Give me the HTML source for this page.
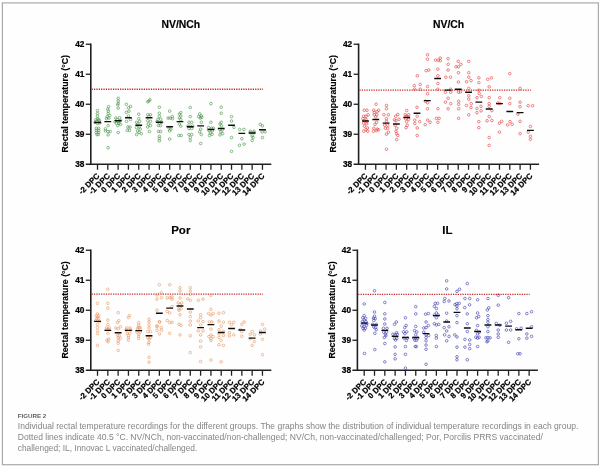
<!DOCTYPE html>
<html><head><meta charset="utf-8"><title>Figure 2</title>
<style>
html,body{margin:0;padding:0;background:#fff;}
body{width:600px;height:467px;overflow:hidden;font-family:"Liberation Sans",sans-serif;}
svg{display:block;will-change:transform;font-family:"Liberation Sans",sans-serif;}
</style></head>
<body>
<svg width="600" height="467" viewBox="0 0 600 467">
<rect x="0" y="0" width="600" height="467" fill="#ffffff"/>
<rect x="2.4" y="2.9" width="596" height="461.8" fill="#fefefe" stroke="#a9a9a9" stroke-width="1.2"/>
<text x="180.8" y="28.1" font-size="10.4" font-weight="bold" text-anchor="middle" fill="#000" stroke="#000" stroke-width="0.15">NV/NCh</text>
<text transform="translate(68.2,103.8) rotate(-90)" font-size="8.75" font-weight="bold" text-anchor="middle" fill="#000" stroke="#000" stroke-width="0.15">Rectal temperature (°C)</text>
<path d="M90.80,43.55 V164.95" stroke="#202020" stroke-width="1.6" fill="none"/>
<path d="M85.80,164.25 H271.30" stroke="#202020" stroke-width="1.4" fill="none"/>
<path d="M85.80,44.25 H90.80" stroke="#202020" stroke-width="1.3"/>
<text x="84.4" y="47.2" font-size="8.3" font-weight="bold" text-anchor="end" fill="#000" stroke="#000" stroke-width="0.22">42</text>
<path d="M85.80,74.25 H90.80" stroke="#202020" stroke-width="1.3"/>
<text x="84.4" y="77.2" font-size="8.3" font-weight="bold" text-anchor="end" fill="#000" stroke="#000" stroke-width="0.22">41</text>
<path d="M85.80,104.25 H90.80" stroke="#202020" stroke-width="1.3"/>
<text x="84.4" y="107.2" font-size="8.3" font-weight="bold" text-anchor="end" fill="#000" stroke="#000" stroke-width="0.22">40</text>
<path d="M85.80,134.25 H90.80" stroke="#202020" stroke-width="1.3"/>
<text x="84.4" y="137.2" font-size="8.3" font-weight="bold" text-anchor="end" fill="#000" stroke="#000" stroke-width="0.22">39</text>
<text x="84.4" y="167.2" font-size="8.3" font-weight="bold" text-anchor="end" fill="#000" stroke="#000" stroke-width="0.22">38</text>
<path d="M97.50,164.25 V169.75" stroke="#202020" stroke-width="1.3"/>
<text transform="translate(100.10,176.45) rotate(-45)" font-size="7.9" font-weight="bold" text-anchor="end" fill="#000" stroke="#000" stroke-width="0.22">-2 DPC</text>
<path d="M107.81,164.25 V169.75" stroke="#202020" stroke-width="1.3"/>
<text transform="translate(110.41,176.45) rotate(-45)" font-size="7.9" font-weight="bold" text-anchor="end" fill="#000" stroke="#000" stroke-width="0.22">-1 DPC</text>
<path d="M118.12,164.25 V169.75" stroke="#202020" stroke-width="1.3"/>
<text transform="translate(120.72,176.45) rotate(-45)" font-size="7.9" font-weight="bold" text-anchor="end" fill="#000" stroke="#000" stroke-width="0.22">0 DPC</text>
<path d="M128.43,164.25 V169.75" stroke="#202020" stroke-width="1.3"/>
<text transform="translate(131.03,176.45) rotate(-45)" font-size="7.9" font-weight="bold" text-anchor="end" fill="#000" stroke="#000" stroke-width="0.22">1 DPC</text>
<path d="M138.74,164.25 V169.75" stroke="#202020" stroke-width="1.3"/>
<text transform="translate(141.34,176.45) rotate(-45)" font-size="7.9" font-weight="bold" text-anchor="end" fill="#000" stroke="#000" stroke-width="0.22">2 DPC</text>
<path d="M149.05,164.25 V169.75" stroke="#202020" stroke-width="1.3"/>
<text transform="translate(151.65,176.45) rotate(-45)" font-size="7.9" font-weight="bold" text-anchor="end" fill="#000" stroke="#000" stroke-width="0.22">3 DPC</text>
<path d="M159.36,164.25 V169.75" stroke="#202020" stroke-width="1.3"/>
<text transform="translate(161.96,176.45) rotate(-45)" font-size="7.9" font-weight="bold" text-anchor="end" fill="#000" stroke="#000" stroke-width="0.22">4 DPC</text>
<path d="M169.67,164.25 V169.75" stroke="#202020" stroke-width="1.3"/>
<text transform="translate(172.27,176.45) rotate(-45)" font-size="7.9" font-weight="bold" text-anchor="end" fill="#000" stroke="#000" stroke-width="0.22">5 DPC</text>
<path d="M179.98,164.25 V169.75" stroke="#202020" stroke-width="1.3"/>
<text transform="translate(182.58,176.45) rotate(-45)" font-size="7.9" font-weight="bold" text-anchor="end" fill="#000" stroke="#000" stroke-width="0.22">6 DPC</text>
<path d="M190.29,164.25 V169.75" stroke="#202020" stroke-width="1.3"/>
<text transform="translate(192.89,176.45) rotate(-45)" font-size="7.9" font-weight="bold" text-anchor="end" fill="#000" stroke="#000" stroke-width="0.22">7 DPC</text>
<path d="M200.60,164.25 V169.75" stroke="#202020" stroke-width="1.3"/>
<text transform="translate(203.20,176.45) rotate(-45)" font-size="7.9" font-weight="bold" text-anchor="end" fill="#000" stroke="#000" stroke-width="0.22">8 DPC</text>
<path d="M210.91,164.25 V169.75" stroke="#202020" stroke-width="1.3"/>
<text transform="translate(213.51,176.45) rotate(-45)" font-size="7.9" font-weight="bold" text-anchor="end" fill="#000" stroke="#000" stroke-width="0.22">9 DPC</text>
<path d="M221.22,164.25 V169.75" stroke="#202020" stroke-width="1.3"/>
<text transform="translate(223.82,176.45) rotate(-45)" font-size="7.9" font-weight="bold" text-anchor="end" fill="#000" stroke="#000" stroke-width="0.22">10 DPC</text>
<path d="M231.53,164.25 V169.75" stroke="#202020" stroke-width="1.3"/>
<text transform="translate(234.13,176.45) rotate(-45)" font-size="7.9" font-weight="bold" text-anchor="end" fill="#000" stroke="#000" stroke-width="0.22">11 DPC</text>
<path d="M241.84,164.25 V169.75" stroke="#202020" stroke-width="1.3"/>
<text transform="translate(244.44,176.45) rotate(-45)" font-size="7.9" font-weight="bold" text-anchor="end" fill="#000" stroke="#000" stroke-width="0.22">12 DPC</text>
<path d="M252.15,164.25 V169.75" stroke="#202020" stroke-width="1.3"/>
<text transform="translate(254.75,176.45) rotate(-45)" font-size="7.9" font-weight="bold" text-anchor="end" fill="#000" stroke="#000" stroke-width="0.22">13 DPC</text>
<path d="M262.46,164.25 V169.75" stroke="#202020" stroke-width="1.3"/>
<text transform="translate(265.06,176.45) rotate(-45)" font-size="7.9" font-weight="bold" text-anchor="end" fill="#000" stroke="#000" stroke-width="0.22">14 DPC</text>
<path d="M91.60,89.25 H262.96" stroke="#c42828" stroke-width="1.3" stroke-dasharray="1.25,1.12" fill="none"/>
<g fill="none" stroke="#3f8f3f" stroke-width="0.6"><circle cx="97.50" cy="110.55" r="1.3"/><circle cx="97.50" cy="113.55" r="1.3"/><circle cx="97.50" cy="116.25" r="1.3"/><circle cx="97.50" cy="118.65" r="1.3"/><circle cx="98.70" cy="119.55" r="1.3"/><circle cx="95.80" cy="119.85" r="1.3"/><circle cx="99.50" cy="120.75" r="1.3"/><circle cx="96.90" cy="121.35" r="1.3"/><circle cx="95.00" cy="122.25" r="1.3"/><circle cx="100.00" cy="122.85" r="1.3"/><circle cx="97.50" cy="123.45" r="1.3"/><circle cx="96.30" cy="128.25" r="1.3"/><circle cx="98.70" cy="128.25" r="1.3"/><circle cx="96.30" cy="130.35" r="1.3"/><circle cx="98.70" cy="130.35" r="1.3"/><circle cx="96.30" cy="132.45" r="1.3"/><circle cx="98.70" cy="132.45" r="1.3"/><circle cx="96.90" cy="134.55" r="1.3"/><circle cx="98.30" cy="134.55" r="1.3"/><circle cx="108.61" cy="106.65" r="1.3"/><circle cx="107.81" cy="109.05" r="1.3"/><circle cx="108.31" cy="111.15" r="1.3"/><circle cx="108.11" cy="113.55" r="1.3"/><circle cx="109.71" cy="115.35" r="1.3"/><circle cx="107.01" cy="116.85" r="1.3"/><circle cx="108.91" cy="118.05" r="1.3"/><circle cx="106.51" cy="118.65" r="1.3"/><circle cx="108.11" cy="125.55" r="1.3"/><circle cx="105.41" cy="128.85" r="1.3"/><circle cx="105.41" cy="130.95" r="1.3"/><circle cx="108.11" cy="131.55" r="1.3"/><circle cx="110.21" cy="131.55" r="1.3"/><circle cx="108.11" cy="134.85" r="1.3"/><circle cx="108.11" cy="147.75" r="1.3"/><circle cx="118.22" cy="98.25" r="1.3"/><circle cx="118.22" cy="100.95" r="1.3"/><circle cx="118.22" cy="103.35" r="1.3"/><circle cx="117.72" cy="104.85" r="1.3"/><circle cx="118.22" cy="108.15" r="1.3"/><circle cx="119.62" cy="117.75" r="1.3"/><circle cx="115.82" cy="118.05" r="1.3"/><circle cx="117.22" cy="119.55" r="1.3"/><circle cx="120.42" cy="120.45" r="1.3"/><circle cx="115.02" cy="121.65" r="1.3"/><circle cx="118.12" cy="121.65" r="1.3"/><circle cx="116.42" cy="123.15" r="1.3"/><circle cx="119.02" cy="123.45" r="1.3"/><circle cx="120.52" cy="124.35" r="1.3"/><circle cx="117.72" cy="125.55" r="1.3"/><circle cx="118.22" cy="132.45" r="1.3"/><circle cx="126.33" cy="104.25" r="1.3"/><circle cx="130.53" cy="106.35" r="1.3"/><circle cx="128.43" cy="107.85" r="1.3"/><circle cx="128.93" cy="111.15" r="1.3"/><circle cx="126.33" cy="112.35" r="1.3"/><circle cx="128.43" cy="115.95" r="1.3"/><circle cx="130.53" cy="119.55" r="1.3"/><circle cx="126.53" cy="121.35" r="1.3"/><circle cx="127.93" cy="127.05" r="1.3"/><circle cx="130.03" cy="127.05" r="1.3"/><circle cx="127.33" cy="130.35" r="1.3"/><circle cx="129.53" cy="130.35" r="1.3"/><circle cx="138.74" cy="114.15" r="1.3"/><circle cx="138.74" cy="118.65" r="1.3"/><circle cx="139.74" cy="121.35" r="1.3"/><circle cx="136.54" cy="122.25" r="1.3"/><circle cx="137.84" cy="123.75" r="1.3"/><circle cx="139.14" cy="127.05" r="1.3"/><circle cx="136.54" cy="127.65" r="1.3"/><circle cx="140.24" cy="129.15" r="1.3"/><circle cx="137.54" cy="130.95" r="1.3"/><circle cx="139.14" cy="132.45" r="1.3"/><circle cx="141.34" cy="133.65" r="1.3"/><circle cx="136.54" cy="134.55" r="1.3"/><circle cx="149.95" cy="99.75" r="1.3"/><circle cx="148.85" cy="100.95" r="1.3"/><circle cx="147.75" cy="101.85" r="1.3"/><circle cx="147.75" cy="114.75" r="1.3"/><circle cx="150.45" cy="114.75" r="1.3"/><circle cx="148.85" cy="116.55" r="1.3"/><circle cx="147.75" cy="120.75" r="1.3"/><circle cx="150.45" cy="121.35" r="1.3"/><circle cx="148.25" cy="124.05" r="1.3"/><circle cx="150.45" cy="125.55" r="1.3"/><circle cx="147.75" cy="127.05" r="1.3"/><circle cx="149.35" cy="131.55" r="1.3"/><circle cx="159.36" cy="107.25" r="1.3"/><circle cx="159.36" cy="113.25" r="1.3"/><circle cx="159.36" cy="116.25" r="1.3"/><circle cx="158.06" cy="119.25" r="1.3"/><circle cx="160.66" cy="119.25" r="1.3"/><circle cx="156.96" cy="121.65" r="1.3"/><circle cx="161.76" cy="122.25" r="1.3"/><circle cx="159.36" cy="122.85" r="1.3"/><circle cx="158.46" cy="125.55" r="1.3"/><circle cx="160.56" cy="125.55" r="1.3"/><circle cx="158.46" cy="131.55" r="1.3"/><circle cx="160.56" cy="131.55" r="1.3"/><circle cx="159.36" cy="136.35" r="1.3"/><circle cx="159.36" cy="138.45" r="1.3"/><circle cx="159.36" cy="140.85" r="1.3"/><circle cx="169.67" cy="111.15" r="1.3"/><circle cx="172.37" cy="116.55" r="1.3"/><circle cx="168.07" cy="118.05" r="1.3"/><circle cx="170.17" cy="118.05" r="1.3"/><circle cx="172.37" cy="118.65" r="1.3"/><circle cx="169.17" cy="128.25" r="1.3"/><circle cx="170.77" cy="129.15" r="1.3"/><circle cx="169.67" cy="130.95" r="1.3"/><circle cx="169.67" cy="139.05" r="1.3"/><circle cx="180.78" cy="112.65" r="1.3"/><circle cx="179.38" cy="114.15" r="1.3"/><circle cx="180.78" cy="115.95" r="1.3"/><circle cx="179.38" cy="118.05" r="1.3"/><circle cx="180.78" cy="119.55" r="1.3"/><circle cx="179.38" cy="124.05" r="1.3"/><circle cx="180.78" cy="126.15" r="1.3"/><circle cx="178.78" cy="135.45" r="1.3"/><circle cx="181.18" cy="135.45" r="1.3"/><circle cx="190.29" cy="107.55" r="1.3"/><circle cx="190.29" cy="116.55" r="1.3"/><circle cx="188.99" cy="122.25" r="1.3"/><circle cx="191.69" cy="122.25" r="1.3"/><circle cx="187.89" cy="126.15" r="1.3"/><circle cx="190.29" cy="126.15" r="1.3"/><circle cx="192.69" cy="126.15" r="1.3"/><circle cx="188.99" cy="128.55" r="1.3"/><circle cx="191.69" cy="128.55" r="1.3"/><circle cx="188.99" cy="134.55" r="1.3"/><circle cx="191.69" cy="134.55" r="1.3"/><circle cx="190.29" cy="137.55" r="1.3"/><circle cx="190.29" cy="140.55" r="1.3"/><circle cx="199.70" cy="113.85" r="1.3"/><circle cx="201.30" cy="115.95" r="1.3"/><circle cx="198.60" cy="116.55" r="1.3"/><circle cx="201.80" cy="117.45" r="1.3"/><circle cx="200.20" cy="118.05" r="1.3"/><circle cx="201.30" cy="122.25" r="1.3"/><circle cx="200.70" cy="129.15" r="1.3"/><circle cx="199.70" cy="131.85" r="1.3"/><circle cx="201.30" cy="134.55" r="1.3"/><circle cx="200.70" cy="143.55" r="1.3"/><circle cx="210.91" cy="103.65" r="1.3"/><circle cx="210.91" cy="122.25" r="1.3"/><circle cx="208.51" cy="127.65" r="1.3"/><circle cx="211.51" cy="128.25" r="1.3"/><circle cx="213.31" cy="128.25" r="1.3"/><circle cx="209.11" cy="130.65" r="1.3"/><circle cx="212.31" cy="130.65" r="1.3"/><circle cx="210.31" cy="133.05" r="1.3"/><circle cx="212.11" cy="134.25" r="1.3"/><circle cx="209.51" cy="135.45" r="1.3"/><circle cx="221.22" cy="107.25" r="1.3"/><circle cx="221.22" cy="113.25" r="1.3"/><circle cx="221.22" cy="122.25" r="1.3"/><circle cx="220.02" cy="124.05" r="1.3"/><circle cx="221.52" cy="125.85" r="1.3"/><circle cx="219.82" cy="129.45" r="1.3"/><circle cx="222.62" cy="129.45" r="1.3"/><circle cx="220.92" cy="131.85" r="1.3"/><circle cx="222.62" cy="133.65" r="1.3"/><circle cx="220.02" cy="134.85" r="1.3"/><circle cx="231.53" cy="116.55" r="1.3"/><circle cx="231.53" cy="121.05" r="1.3"/><circle cx="233.93" cy="127.35" r="1.3"/><circle cx="231.53" cy="137.55" r="1.3"/><circle cx="231.53" cy="151.35" r="1.3"/><circle cx="239.74" cy="129.45" r="1.3"/><circle cx="243.94" cy="129.45" r="1.3"/><circle cx="241.84" cy="138.75" r="1.3"/><circle cx="244.14" cy="144.15" r="1.3"/><circle cx="239.54" cy="145.35" r="1.3"/><circle cx="250.35" cy="131.25" r="1.3"/><circle cx="253.95" cy="131.25" r="1.3"/><circle cx="250.35" cy="132.75" r="1.3"/><circle cx="253.95" cy="132.75" r="1.3"/><circle cx="252.15" cy="136.05" r="1.3"/><circle cx="253.05" cy="137.55" r="1.3"/><circle cx="252.15" cy="140.55" r="1.3"/><circle cx="260.36" cy="124.35" r="1.3"/><circle cx="262.46" cy="125.85" r="1.3"/><circle cx="262.06" cy="131.85" r="1.3"/><circle cx="265.06" cy="131.85" r="1.3"/><circle cx="262.46" cy="137.55" r="1.3"/></g>
<path d="M94.10,122.55H100.90M104.41,121.65H111.21M114.72,120.75H121.52M125.03,117.75H131.83M135.34,125.25H142.14M145.65,117.75H152.45M155.96,122.25H162.76M166.27,126.75H173.07M176.58,121.65H183.38M186.89,126.75H193.69M197.20,125.85H204.00M207.51,129.45H214.31M217.82,128.55H224.62M228.13,125.25H234.93M238.44,133.35H245.24M248.75,133.05H255.55M259.06,129.75H265.86" stroke="#0c0c0c" stroke-width="1.4" fill="none"/>
<text x="448.6" y="28.1" font-size="10.4" font-weight="bold" text-anchor="middle" fill="#000" stroke="#000" stroke-width="0.15">NV/Ch</text>
<text transform="translate(336.0,103.8) rotate(-90)" font-size="8.75" font-weight="bold" text-anchor="middle" fill="#000" stroke="#000" stroke-width="0.15">Rectal temperature (°C)</text>
<path d="M358.60,43.55 V164.95" stroke="#202020" stroke-width="1.6" fill="none"/>
<path d="M353.60,164.25 H539.10" stroke="#202020" stroke-width="1.4" fill="none"/>
<path d="M353.60,44.25 H358.60" stroke="#202020" stroke-width="1.3"/>
<text x="352.2" y="47.2" font-size="8.3" font-weight="bold" text-anchor="end" fill="#000" stroke="#000" stroke-width="0.22">42</text>
<path d="M353.60,74.25 H358.60" stroke="#202020" stroke-width="1.3"/>
<text x="352.2" y="77.2" font-size="8.3" font-weight="bold" text-anchor="end" fill="#000" stroke="#000" stroke-width="0.22">41</text>
<path d="M353.60,104.25 H358.60" stroke="#202020" stroke-width="1.3"/>
<text x="352.2" y="107.2" font-size="8.3" font-weight="bold" text-anchor="end" fill="#000" stroke="#000" stroke-width="0.22">40</text>
<path d="M353.60,134.25 H358.60" stroke="#202020" stroke-width="1.3"/>
<text x="352.2" y="137.2" font-size="8.3" font-weight="bold" text-anchor="end" fill="#000" stroke="#000" stroke-width="0.22">39</text>
<text x="352.2" y="167.2" font-size="8.3" font-weight="bold" text-anchor="end" fill="#000" stroke="#000" stroke-width="0.22">38</text>
<path d="M365.45,164.25 V169.75" stroke="#202020" stroke-width="1.3"/>
<text transform="translate(368.05,176.45) rotate(-45)" font-size="7.9" font-weight="bold" text-anchor="end" fill="#000" stroke="#000" stroke-width="0.22">-2 DPC</text>
<path d="M375.76,164.25 V169.75" stroke="#202020" stroke-width="1.3"/>
<text transform="translate(378.36,176.45) rotate(-45)" font-size="7.9" font-weight="bold" text-anchor="end" fill="#000" stroke="#000" stroke-width="0.22">-1 DPC</text>
<path d="M386.07,164.25 V169.75" stroke="#202020" stroke-width="1.3"/>
<text transform="translate(388.67,176.45) rotate(-45)" font-size="7.9" font-weight="bold" text-anchor="end" fill="#000" stroke="#000" stroke-width="0.22">0 DPC</text>
<path d="M396.38,164.25 V169.75" stroke="#202020" stroke-width="1.3"/>
<text transform="translate(398.98,176.45) rotate(-45)" font-size="7.9" font-weight="bold" text-anchor="end" fill="#000" stroke="#000" stroke-width="0.22">1 DPC</text>
<path d="M406.69,164.25 V169.75" stroke="#202020" stroke-width="1.3"/>
<text transform="translate(409.29,176.45) rotate(-45)" font-size="7.9" font-weight="bold" text-anchor="end" fill="#000" stroke="#000" stroke-width="0.22">2 DPC</text>
<path d="M417.00,164.25 V169.75" stroke="#202020" stroke-width="1.3"/>
<text transform="translate(419.60,176.45) rotate(-45)" font-size="7.9" font-weight="bold" text-anchor="end" fill="#000" stroke="#000" stroke-width="0.22">3 DPC</text>
<path d="M427.31,164.25 V169.75" stroke="#202020" stroke-width="1.3"/>
<text transform="translate(429.91,176.45) rotate(-45)" font-size="7.9" font-weight="bold" text-anchor="end" fill="#000" stroke="#000" stroke-width="0.22">4 DPC</text>
<path d="M437.62,164.25 V169.75" stroke="#202020" stroke-width="1.3"/>
<text transform="translate(440.22,176.45) rotate(-45)" font-size="7.9" font-weight="bold" text-anchor="end" fill="#000" stroke="#000" stroke-width="0.22">5 DPC</text>
<path d="M447.93,164.25 V169.75" stroke="#202020" stroke-width="1.3"/>
<text transform="translate(450.53,176.45) rotate(-45)" font-size="7.9" font-weight="bold" text-anchor="end" fill="#000" stroke="#000" stroke-width="0.22">6 DPC</text>
<path d="M458.24,164.25 V169.75" stroke="#202020" stroke-width="1.3"/>
<text transform="translate(460.84,176.45) rotate(-45)" font-size="7.9" font-weight="bold" text-anchor="end" fill="#000" stroke="#000" stroke-width="0.22">7 DPC</text>
<path d="M468.55,164.25 V169.75" stroke="#202020" stroke-width="1.3"/>
<text transform="translate(471.15,176.45) rotate(-45)" font-size="7.9" font-weight="bold" text-anchor="end" fill="#000" stroke="#000" stroke-width="0.22">8 DPC</text>
<path d="M478.86,164.25 V169.75" stroke="#202020" stroke-width="1.3"/>
<text transform="translate(481.46,176.45) rotate(-45)" font-size="7.9" font-weight="bold" text-anchor="end" fill="#000" stroke="#000" stroke-width="0.22">9 DPC</text>
<path d="M489.17,164.25 V169.75" stroke="#202020" stroke-width="1.3"/>
<text transform="translate(491.77,176.45) rotate(-45)" font-size="7.9" font-weight="bold" text-anchor="end" fill="#000" stroke="#000" stroke-width="0.22">10 DPC</text>
<path d="M499.48,164.25 V169.75" stroke="#202020" stroke-width="1.3"/>
<text transform="translate(502.08,176.45) rotate(-45)" font-size="7.9" font-weight="bold" text-anchor="end" fill="#000" stroke="#000" stroke-width="0.22">11 DPC</text>
<path d="M509.79,164.25 V169.75" stroke="#202020" stroke-width="1.3"/>
<text transform="translate(512.39,176.45) rotate(-45)" font-size="7.9" font-weight="bold" text-anchor="end" fill="#000" stroke="#000" stroke-width="0.22">12 DPC</text>
<path d="M520.10,164.25 V169.75" stroke="#202020" stroke-width="1.3"/>
<text transform="translate(522.70,176.45) rotate(-45)" font-size="7.9" font-weight="bold" text-anchor="end" fill="#000" stroke="#000" stroke-width="0.22">13 DPC</text>
<path d="M530.41,164.25 V169.75" stroke="#202020" stroke-width="1.3"/>
<text transform="translate(533.01,176.45) rotate(-45)" font-size="7.9" font-weight="bold" text-anchor="end" fill="#000" stroke="#000" stroke-width="0.22">14 DPC</text>
<path d="M359.40,90.15 H530.91" stroke="#c42828" stroke-width="1.3" stroke-dasharray="1.25,1.12" fill="none"/>
<g fill="none" stroke="#e23838" stroke-width="0.6"><circle cx="364.25" cy="110.25" r="1.3"/><circle cx="367.05" cy="110.25" r="1.3"/><circle cx="368.15" cy="114.75" r="1.3"/><circle cx="363.65" cy="116.25" r="1.3"/><circle cx="365.95" cy="116.25" r="1.3"/><circle cx="362.95" cy="118.65" r="1.3"/><circle cx="365.95" cy="119.25" r="1.3"/><circle cx="364.45" cy="120.75" r="1.3"/><circle cx="366.95" cy="121.65" r="1.3"/><circle cx="363.65" cy="123.15" r="1.3"/><circle cx="366.65" cy="123.75" r="1.3"/><circle cx="364.45" cy="126.15" r="1.3"/><circle cx="367.45" cy="127.95" r="1.3"/><circle cx="365.95" cy="129.75" r="1.3"/><circle cx="363.65" cy="131.25" r="1.3"/><circle cx="367.75" cy="131.25" r="1.3"/><circle cx="376.16" cy="104.25" r="1.3"/><circle cx="373.76" cy="110.25" r="1.3"/><circle cx="378.66" cy="110.25" r="1.3"/><circle cx="377.16" cy="111.75" r="1.3"/><circle cx="374.26" cy="112.35" r="1.3"/><circle cx="374.26" cy="114.75" r="1.3"/><circle cx="376.76" cy="114.75" r="1.3"/><circle cx="375.76" cy="116.85" r="1.3"/><circle cx="376.46" cy="122.25" r="1.3"/><circle cx="374.96" cy="124.35" r="1.3"/><circle cx="373.76" cy="128.25" r="1.3"/><circle cx="377.16" cy="129.15" r="1.3"/><circle cx="378.66" cy="129.75" r="1.3"/><circle cx="376.46" cy="130.65" r="1.3"/><circle cx="373.46" cy="131.25" r="1.3"/><circle cx="386.47" cy="105.45" r="1.3"/><circle cx="386.47" cy="108.75" r="1.3"/><circle cx="383.87" cy="114.75" r="1.3"/><circle cx="388.37" cy="114.75" r="1.3"/><circle cx="386.47" cy="118.65" r="1.3"/><circle cx="386.47" cy="121.35" r="1.3"/><circle cx="384.67" cy="125.25" r="1.3"/><circle cx="387.67" cy="125.25" r="1.3"/><circle cx="385.47" cy="128.25" r="1.3"/><circle cx="387.67" cy="128.25" r="1.3"/><circle cx="388.47" cy="132.15" r="1.3"/><circle cx="386.47" cy="134.25" r="1.3"/><circle cx="386.47" cy="149.25" r="1.3"/><circle cx="397.78" cy="114.45" r="1.3"/><circle cx="395.68" cy="116.25" r="1.3"/><circle cx="398.98" cy="119.25" r="1.3"/><circle cx="394.48" cy="119.85" r="1.3"/><circle cx="395.98" cy="120.75" r="1.3"/><circle cx="395.18" cy="125.25" r="1.3"/><circle cx="396.68" cy="128.25" r="1.3"/><circle cx="395.98" cy="131.25" r="1.3"/><circle cx="396.68" cy="133.65" r="1.3"/><circle cx="397.78" cy="135.45" r="1.3"/><circle cx="396.68" cy="139.65" r="1.3"/><circle cx="406.69" cy="110.55" r="1.3"/><circle cx="405.19" cy="114.75" r="1.3"/><circle cx="408.69" cy="114.75" r="1.3"/><circle cx="406.09" cy="116.25" r="1.3"/><circle cx="407.89" cy="116.85" r="1.3"/><circle cx="405.69" cy="118.65" r="1.3"/><circle cx="408.69" cy="119.25" r="1.3"/><circle cx="406.69" cy="121.65" r="1.3"/><circle cx="407.19" cy="125.25" r="1.3"/><circle cx="406.09" cy="127.65" r="1.3"/><circle cx="417.30" cy="75.75" r="1.3"/><circle cx="420.20" cy="84.45" r="1.3"/><circle cx="414.30" cy="85.65" r="1.3"/><circle cx="414.60" cy="89.25" r="1.3"/><circle cx="420.20" cy="89.25" r="1.3"/><circle cx="417.00" cy="107.25" r="1.3"/><circle cx="417.20" cy="116.25" r="1.3"/><circle cx="414.80" cy="120.15" r="1.3"/><circle cx="419.70" cy="121.65" r="1.3"/><circle cx="414.80" cy="123.45" r="1.3"/><circle cx="417.20" cy="127.95" r="1.3"/><circle cx="417.20" cy="135.45" r="1.3"/><circle cx="427.51" cy="54.75" r="1.3"/><circle cx="427.51" cy="59.25" r="1.3"/><circle cx="428.81" cy="70.05" r="1.3"/><circle cx="426.11" cy="70.65" r="1.3"/><circle cx="427.51" cy="86.55" r="1.3"/><circle cx="427.51" cy="93.75" r="1.3"/><circle cx="425.31" cy="101.25" r="1.3"/><circle cx="427.71" cy="102.75" r="1.3"/><circle cx="427.51" cy="108.75" r="1.3"/><circle cx="427.71" cy="120.15" r="1.3"/><circle cx="430.11" cy="122.25" r="1.3"/><circle cx="425.21" cy="124.65" r="1.3"/><circle cx="440.22" cy="58.05" r="1.3"/><circle cx="435.52" cy="60.15" r="1.3"/><circle cx="438.22" cy="60.15" r="1.3"/><circle cx="440.22" cy="60.75" r="1.3"/><circle cx="437.82" cy="69.15" r="1.3"/><circle cx="437.82" cy="75.75" r="1.3"/><circle cx="437.82" cy="83.55" r="1.3"/><circle cx="437.82" cy="89.25" r="1.3"/><circle cx="437.92" cy="108.75" r="1.3"/><circle cx="436.42" cy="118.35" r="1.3"/><circle cx="439.12" cy="118.35" r="1.3"/><circle cx="437.92" cy="122.25" r="1.3"/><circle cx="448.13" cy="58.65" r="1.3"/><circle cx="448.13" cy="64.35" r="1.3"/><circle cx="448.13" cy="70.05" r="1.3"/><circle cx="445.83" cy="77.25" r="1.3"/><circle cx="450.53" cy="77.25" r="1.3"/><circle cx="450.53" cy="89.25" r="1.3"/><circle cx="445.43" cy="92.25" r="1.3"/><circle cx="450.73" cy="92.25" r="1.3"/><circle cx="448.13" cy="98.25" r="1.3"/><circle cx="445.43" cy="102.15" r="1.3"/><circle cx="450.73" cy="103.65" r="1.3"/><circle cx="448.13" cy="108.75" r="1.3"/><circle cx="458.24" cy="61.35" r="1.3"/><circle cx="460.84" cy="64.35" r="1.3"/><circle cx="455.94" cy="66.75" r="1.3"/><circle cx="458.44" cy="66.75" r="1.3"/><circle cx="458.44" cy="72.75" r="1.3"/><circle cx="458.44" cy="82.05" r="1.3"/><circle cx="460.44" cy="91.95" r="1.3"/><circle cx="458.54" cy="92.25" r="1.3"/><circle cx="458.64" cy="101.25" r="1.3"/><circle cx="458.64" cy="104.25" r="1.3"/><circle cx="458.64" cy="108.75" r="1.3"/><circle cx="458.64" cy="118.35" r="1.3"/><circle cx="468.75" cy="61.35" r="1.3"/><circle cx="468.75" cy="72.75" r="1.3"/><circle cx="468.75" cy="77.25" r="1.3"/><circle cx="471.05" cy="80.55" r="1.3"/><circle cx="466.65" cy="81.75" r="1.3"/><circle cx="468.75" cy="88.35" r="1.3"/><circle cx="468.75" cy="95.85" r="1.3"/><circle cx="468.75" cy="99.15" r="1.3"/><circle cx="471.25" cy="103.65" r="1.3"/><circle cx="466.45" cy="105.45" r="1.3"/><circle cx="470.95" cy="107.55" r="1.3"/><circle cx="468.75" cy="114.75" r="1.3"/><circle cx="479.16" cy="93.45" r="1.3"/><circle cx="481.36" cy="96.45" r="1.3"/><circle cx="476.96" cy="97.65" r="1.3"/><circle cx="481.06" cy="106.35" r="1.3"/><circle cx="476.96" cy="108.45" r="1.3"/><circle cx="481.06" cy="110.85" r="1.3"/><circle cx="476.96" cy="112.65" r="1.3"/><circle cx="478.86" cy="77.85" r="1.3"/><circle cx="478.86" cy="82.65" r="1.3"/><circle cx="478.86" cy="90.15" r="1.3"/><circle cx="478.86" cy="121.65" r="1.3"/><circle cx="478.86" cy="127.65" r="1.3"/><circle cx="491.47" cy="77.85" r="1.3"/><circle cx="487.67" cy="79.35" r="1.3"/><circle cx="491.87" cy="110.55" r="1.3"/><circle cx="491.87" cy="120.45" r="1.3"/><circle cx="487.07" cy="120.75" r="1.3"/><circle cx="489.17" cy="86.85" r="1.3"/><circle cx="489.17" cy="97.65" r="1.3"/><circle cx="489.17" cy="103.65" r="1.3"/><circle cx="489.17" cy="106.35" r="1.3"/><circle cx="489.17" cy="116.55" r="1.3"/><circle cx="489.17" cy="137.55" r="1.3"/><circle cx="489.17" cy="145.35" r="1.3"/><circle cx="499.78" cy="97.65" r="1.3"/><circle cx="497.88" cy="103.05" r="1.3"/><circle cx="499.78" cy="103.65" r="1.3"/><circle cx="501.68" cy="121.35" r="1.3"/><circle cx="499.48" cy="123.15" r="1.3"/><circle cx="499.48" cy="132.15" r="1.3"/><circle cx="509.99" cy="121.65" r="1.3"/><circle cx="512.19" cy="124.35" r="1.3"/><circle cx="507.69" cy="124.95" r="1.3"/><circle cx="509.79" cy="73.65" r="1.3"/><circle cx="509.79" cy="98.25" r="1.3"/><circle cx="509.79" cy="103.65" r="1.3"/><circle cx="517.90" cy="114.15" r="1.3"/><circle cx="520.10" cy="88.35" r="1.3"/><circle cx="520.10" cy="102.15" r="1.3"/><circle cx="520.10" cy="106.65" r="1.3"/><circle cx="520.10" cy="121.35" r="1.3"/><circle cx="520.10" cy="133.65" r="1.3"/><circle cx="528.21" cy="105.75" r="1.3"/><circle cx="532.71" cy="105.75" r="1.3"/><circle cx="528.21" cy="132.15" r="1.3"/><circle cx="530.41" cy="126.45" r="1.3"/><circle cx="530.41" cy="136.35" r="1.3"/><circle cx="530.41" cy="139.35" r="1.3"/></g>
<path d="M362.05,121.05H368.85M372.36,119.55H379.16M382.67,123.15H389.47M392.98,124.05H399.78M403.29,117.45H410.09M413.60,113.25H420.40M423.91,100.65H430.71M434.22,78.45H441.02M444.53,90.15H451.33M454.84,89.25H461.64M465.15,92.25H471.95M475.46,102.15H482.26M485.77,109.05H492.57M496.08,103.65H502.88M506.39,111.45H513.19M516.70,112.65H523.50M527.01,130.35H533.81" stroke="#0c0c0c" stroke-width="1.4" fill="none"/>
<text x="180.8" y="234.0" font-size="11.5" font-weight="bold" text-anchor="middle" fill="#000" stroke="#000" stroke-width="0.15">Por</text>
<text transform="translate(68.2,309.9) rotate(-90)" font-size="8.75" font-weight="bold" text-anchor="middle" fill="#000" stroke="#000" stroke-width="0.15">Rectal temperature (°C)</text>
<path d="M90.80,249.55 V370.95" stroke="#202020" stroke-width="1.6" fill="none"/>
<path d="M85.80,370.25 H271.30" stroke="#202020" stroke-width="1.4" fill="none"/>
<path d="M85.80,250.25 H90.80" stroke="#202020" stroke-width="1.3"/>
<text x="84.4" y="253.2" font-size="8.3" font-weight="bold" text-anchor="end" fill="#000" stroke="#000" stroke-width="0.22">42</text>
<path d="M85.80,280.25 H90.80" stroke="#202020" stroke-width="1.3"/>
<text x="84.4" y="283.2" font-size="8.3" font-weight="bold" text-anchor="end" fill="#000" stroke="#000" stroke-width="0.22">41</text>
<path d="M85.80,310.25 H90.80" stroke="#202020" stroke-width="1.3"/>
<text x="84.4" y="313.2" font-size="8.3" font-weight="bold" text-anchor="end" fill="#000" stroke="#000" stroke-width="0.22">40</text>
<path d="M85.80,340.25 H90.80" stroke="#202020" stroke-width="1.3"/>
<text x="84.4" y="343.2" font-size="8.3" font-weight="bold" text-anchor="end" fill="#000" stroke="#000" stroke-width="0.22">39</text>
<text x="84.4" y="373.2" font-size="8.3" font-weight="bold" text-anchor="end" fill="#000" stroke="#000" stroke-width="0.22">38</text>
<path d="M97.50,370.25 V375.75" stroke="#202020" stroke-width="1.3"/>
<text transform="translate(100.10,382.45) rotate(-45)" font-size="7.9" font-weight="bold" text-anchor="end" fill="#000" stroke="#000" stroke-width="0.22">-2 DPC</text>
<path d="M107.81,370.25 V375.75" stroke="#202020" stroke-width="1.3"/>
<text transform="translate(110.41,382.45) rotate(-45)" font-size="7.9" font-weight="bold" text-anchor="end" fill="#000" stroke="#000" stroke-width="0.22">-1 DPC</text>
<path d="M118.12,370.25 V375.75" stroke="#202020" stroke-width="1.3"/>
<text transform="translate(120.72,382.45) rotate(-45)" font-size="7.9" font-weight="bold" text-anchor="end" fill="#000" stroke="#000" stroke-width="0.22">0 DPC</text>
<path d="M128.43,370.25 V375.75" stroke="#202020" stroke-width="1.3"/>
<text transform="translate(131.03,382.45) rotate(-45)" font-size="7.9" font-weight="bold" text-anchor="end" fill="#000" stroke="#000" stroke-width="0.22">1 DPC</text>
<path d="M138.74,370.25 V375.75" stroke="#202020" stroke-width="1.3"/>
<text transform="translate(141.34,382.45) rotate(-45)" font-size="7.9" font-weight="bold" text-anchor="end" fill="#000" stroke="#000" stroke-width="0.22">2 DPC</text>
<path d="M149.05,370.25 V375.75" stroke="#202020" stroke-width="1.3"/>
<text transform="translate(151.65,382.45) rotate(-45)" font-size="7.9" font-weight="bold" text-anchor="end" fill="#000" stroke="#000" stroke-width="0.22">3 DPC</text>
<path d="M159.36,370.25 V375.75" stroke="#202020" stroke-width="1.3"/>
<text transform="translate(161.96,382.45) rotate(-45)" font-size="7.9" font-weight="bold" text-anchor="end" fill="#000" stroke="#000" stroke-width="0.22">4 DPC</text>
<path d="M169.67,370.25 V375.75" stroke="#202020" stroke-width="1.3"/>
<text transform="translate(172.27,382.45) rotate(-45)" font-size="7.9" font-weight="bold" text-anchor="end" fill="#000" stroke="#000" stroke-width="0.22">5 DPC</text>
<path d="M179.98,370.25 V375.75" stroke="#202020" stroke-width="1.3"/>
<text transform="translate(182.58,382.45) rotate(-45)" font-size="7.9" font-weight="bold" text-anchor="end" fill="#000" stroke="#000" stroke-width="0.22">6 DPC</text>
<path d="M190.29,370.25 V375.75" stroke="#202020" stroke-width="1.3"/>
<text transform="translate(192.89,382.45) rotate(-45)" font-size="7.9" font-weight="bold" text-anchor="end" fill="#000" stroke="#000" stroke-width="0.22">7 DPC</text>
<path d="M200.60,370.25 V375.75" stroke="#202020" stroke-width="1.3"/>
<text transform="translate(203.20,382.45) rotate(-45)" font-size="7.9" font-weight="bold" text-anchor="end" fill="#000" stroke="#000" stroke-width="0.22">8 DPC</text>
<path d="M210.91,370.25 V375.75" stroke="#202020" stroke-width="1.3"/>
<text transform="translate(213.51,382.45) rotate(-45)" font-size="7.9" font-weight="bold" text-anchor="end" fill="#000" stroke="#000" stroke-width="0.22">9 DPC</text>
<path d="M221.22,370.25 V375.75" stroke="#202020" stroke-width="1.3"/>
<text transform="translate(223.82,382.45) rotate(-45)" font-size="7.9" font-weight="bold" text-anchor="end" fill="#000" stroke="#000" stroke-width="0.22">10 DPC</text>
<path d="M231.53,370.25 V375.75" stroke="#202020" stroke-width="1.3"/>
<text transform="translate(234.13,382.45) rotate(-45)" font-size="7.9" font-weight="bold" text-anchor="end" fill="#000" stroke="#000" stroke-width="0.22">11 DPC</text>
<path d="M241.84,370.25 V375.75" stroke="#202020" stroke-width="1.3"/>
<text transform="translate(244.44,382.45) rotate(-45)" font-size="7.9" font-weight="bold" text-anchor="end" fill="#000" stroke="#000" stroke-width="0.22">12 DPC</text>
<path d="M252.15,370.25 V375.75" stroke="#202020" stroke-width="1.3"/>
<text transform="translate(254.75,382.45) rotate(-45)" font-size="7.9" font-weight="bold" text-anchor="end" fill="#000" stroke="#000" stroke-width="0.22">13 DPC</text>
<path d="M262.46,370.25 V375.75" stroke="#202020" stroke-width="1.3"/>
<text transform="translate(265.06,382.45) rotate(-45)" font-size="7.9" font-weight="bold" text-anchor="end" fill="#000" stroke="#000" stroke-width="0.22">14 DPC</text>
<path d="M91.60,294.05 H262.96" stroke="#c42828" stroke-width="1.3" stroke-dasharray="1.25,1.12" fill="none"/>
<g fill="none" stroke="#e8925a" stroke-width="0.6"><circle cx="97.50" cy="303.35" r="1.3"/><circle cx="97.50" cy="313.85" r="1.3"/><circle cx="96.30" cy="315.65" r="1.3"/><circle cx="98.70" cy="315.65" r="1.3"/><circle cx="97.50" cy="317.15" r="1.3"/><circle cx="96.90" cy="318.65" r="1.3"/><circle cx="98.50" cy="318.65" r="1.3"/><circle cx="95.50" cy="320.75" r="1.3"/><circle cx="99.50" cy="321.35" r="1.3"/><circle cx="97.50" cy="324.35" r="1.3"/><circle cx="97.50" cy="327.35" r="1.3"/><circle cx="97.50" cy="330.65" r="1.3"/><circle cx="97.50" cy="333.65" r="1.3"/><circle cx="97.50" cy="345.35" r="1.3"/><circle cx="107.81" cy="289.25" r="1.3"/><circle cx="107.81" cy="303.35" r="1.3"/><circle cx="107.81" cy="308.15" r="1.3"/><circle cx="107.81" cy="320.15" r="1.3"/><circle cx="107.81" cy="324.65" r="1.3"/><circle cx="106.51" cy="327.95" r="1.3"/><circle cx="109.21" cy="327.95" r="1.3"/><circle cx="107.01" cy="329.45" r="1.3"/><circle cx="108.91" cy="329.45" r="1.3"/><circle cx="107.81" cy="333.35" r="1.3"/><circle cx="108.61" cy="339.05" r="1.3"/><circle cx="107.01" cy="340.25" r="1.3"/><circle cx="108.11" cy="341.75" r="1.3"/><circle cx="118.22" cy="312.65" r="1.3"/><circle cx="118.82" cy="320.75" r="1.3"/><circle cx="117.52" cy="322.55" r="1.3"/><circle cx="120.42" cy="326.75" r="1.3"/><circle cx="115.82" cy="327.95" r="1.3"/><circle cx="118.22" cy="328.85" r="1.3"/><circle cx="117.72" cy="335.45" r="1.3"/><circle cx="119.32" cy="335.75" r="1.3"/><circle cx="118.22" cy="338.15" r="1.3"/><circle cx="120.42" cy="338.45" r="1.3"/><circle cx="118.22" cy="340.85" r="1.3"/><circle cx="118.22" cy="343.25" r="1.3"/><circle cx="118.22" cy="350.45" r="1.3"/><circle cx="129.53" cy="315.65" r="1.3"/><circle cx="128.43" cy="317.45" r="1.3"/><circle cx="126.83" cy="327.95" r="1.3"/><circle cx="130.03" cy="327.95" r="1.3"/><circle cx="126.03" cy="330.05" r="1.3"/><circle cx="130.83" cy="330.05" r="1.3"/><circle cx="127.33" cy="333.35" r="1.3"/><circle cx="129.53" cy="333.35" r="1.3"/><circle cx="128.43" cy="335.75" r="1.3"/><circle cx="128.43" cy="337.55" r="1.3"/><circle cx="128.43" cy="340.25" r="1.3"/><circle cx="138.74" cy="322.55" r="1.3"/><circle cx="138.74" cy="325.25" r="1.3"/><circle cx="138.14" cy="327.35" r="1.3"/><circle cx="139.74" cy="327.35" r="1.3"/><circle cx="137.54" cy="328.85" r="1.3"/><circle cx="140.24" cy="328.85" r="1.3"/><circle cx="137.04" cy="332.15" r="1.3"/><circle cx="140.24" cy="332.15" r="1.3"/><circle cx="138.74" cy="334.25" r="1.3"/><circle cx="138.74" cy="336.35" r="1.3"/><circle cx="138.74" cy="338.45" r="1.3"/><circle cx="149.05" cy="319.25" r="1.3"/><circle cx="149.05" cy="321.95" r="1.3"/><circle cx="149.05" cy="325.25" r="1.3"/><circle cx="149.05" cy="327.95" r="1.3"/><circle cx="147.75" cy="331.55" r="1.3"/><circle cx="150.45" cy="331.55" r="1.3"/><circle cx="147.75" cy="337.55" r="1.3"/><circle cx="150.45" cy="337.55" r="1.3"/><circle cx="149.05" cy="339.05" r="1.3"/><circle cx="149.05" cy="342.35" r="1.3"/><circle cx="148.55" cy="344.15" r="1.3"/><circle cx="149.05" cy="357.35" r="1.3"/><circle cx="149.05" cy="362.15" r="1.3"/><circle cx="159.36" cy="284.75" r="1.3"/><circle cx="161.26" cy="292.85" r="1.3"/><circle cx="156.96" cy="294.95" r="1.3"/><circle cx="161.56" cy="297.65" r="1.3"/><circle cx="156.96" cy="299.15" r="1.3"/><circle cx="156.96" cy="310.25" r="1.3"/><circle cx="159.36" cy="321.65" r="1.3"/><circle cx="159.66" cy="321.95" r="1.3"/><circle cx="156.96" cy="325.85" r="1.3"/><circle cx="156.96" cy="326.75" r="1.3"/><circle cx="161.26" cy="327.65" r="1.3"/><circle cx="156.96" cy="330.35" r="1.3"/><circle cx="161.56" cy="330.35" r="1.3"/><circle cx="159.36" cy="333.95" r="1.3"/><circle cx="169.67" cy="284.75" r="1.3"/><circle cx="171.97" cy="297.05" r="1.3"/><circle cx="169.87" cy="297.65" r="1.3"/><circle cx="167.17" cy="297.95" r="1.3"/><circle cx="171.97" cy="299.15" r="1.3"/><circle cx="171.97" cy="306.65" r="1.3"/><circle cx="167.17" cy="311.45" r="1.3"/><circle cx="169.67" cy="312.95" r="1.3"/><circle cx="167.17" cy="320.45" r="1.3"/><circle cx="171.97" cy="322.25" r="1.3"/><circle cx="169.67" cy="322.55" r="1.3"/><circle cx="169.67" cy="333.35" r="1.3"/><circle cx="179.98" cy="287.75" r="1.3"/><circle cx="179.98" cy="291.05" r="1.3"/><circle cx="179.98" cy="297.95" r="1.3"/><circle cx="178.08" cy="302.75" r="1.3"/><circle cx="181.58" cy="303.05" r="1.3"/><circle cx="179.98" cy="304.25" r="1.3"/><circle cx="178.68" cy="308.75" r="1.3"/><circle cx="181.08" cy="308.75" r="1.3"/><circle cx="178.98" cy="310.25" r="1.3"/><circle cx="179.98" cy="314.75" r="1.3"/><circle cx="178.98" cy="324.35" r="1.3"/><circle cx="181.08" cy="325.25" r="1.3"/><circle cx="179.98" cy="334.85" r="1.3"/><circle cx="190.29" cy="287.75" r="1.3"/><circle cx="190.29" cy="291.05" r="1.3"/><circle cx="190.29" cy="294.35" r="1.3"/><circle cx="187.69" cy="298.85" r="1.3"/><circle cx="190.29" cy="300.35" r="1.3"/><circle cx="190.29" cy="312.05" r="1.3"/><circle cx="190.29" cy="316.55" r="1.3"/><circle cx="190.29" cy="321.05" r="1.3"/><circle cx="190.29" cy="324.95" r="1.3"/><circle cx="190.29" cy="335.75" r="1.3"/><circle cx="190.29" cy="352.55" r="1.3"/><circle cx="203.00" cy="299.15" r="1.3"/><circle cx="198.40" cy="300.35" r="1.3"/><circle cx="200.60" cy="314.75" r="1.3"/><circle cx="200.60" cy="317.75" r="1.3"/><circle cx="198.20" cy="321.05" r="1.3"/><circle cx="203.00" cy="321.65" r="1.3"/><circle cx="200.60" cy="324.95" r="1.3"/><circle cx="198.20" cy="330.95" r="1.3"/><circle cx="203.00" cy="330.95" r="1.3"/><circle cx="200.60" cy="334.85" r="1.3"/><circle cx="200.60" cy="341.15" r="1.3"/><circle cx="200.60" cy="346.85" r="1.3"/><circle cx="200.60" cy="361.55" r="1.3"/><circle cx="210.91" cy="295.25" r="1.3"/><circle cx="210.91" cy="309.35" r="1.3"/><circle cx="208.61" cy="313.55" r="1.3"/><circle cx="213.31" cy="313.55" r="1.3"/><circle cx="210.91" cy="315.05" r="1.3"/><circle cx="209.51" cy="321.95" r="1.3"/><circle cx="211.91" cy="321.95" r="1.3"/><circle cx="210.91" cy="329.15" r="1.3"/><circle cx="210.91" cy="334.85" r="1.3"/><circle cx="208.91" cy="336.65" r="1.3"/><circle cx="213.01" cy="336.65" r="1.3"/><circle cx="210.91" cy="338.75" r="1.3"/><circle cx="210.91" cy="340.55" r="1.3"/><circle cx="210.91" cy="360.05" r="1.3"/><circle cx="223.42" cy="312.65" r="1.3"/><circle cx="219.02" cy="313.25" r="1.3"/><circle cx="219.02" cy="321.05" r="1.3"/><circle cx="223.42" cy="322.25" r="1.3"/><circle cx="221.22" cy="326.15" r="1.3"/><circle cx="219.02" cy="329.75" r="1.3"/><circle cx="223.42" cy="331.55" r="1.3"/><circle cx="219.02" cy="333.95" r="1.3"/><circle cx="223.42" cy="335.45" r="1.3"/><circle cx="219.02" cy="337.55" r="1.3"/><circle cx="221.22" cy="340.55" r="1.3"/><circle cx="219.02" cy="344.75" r="1.3"/><circle cx="223.42" cy="345.35" r="1.3"/><circle cx="221.22" cy="361.85" r="1.3"/><circle cx="229.43" cy="322.25" r="1.3"/><circle cx="233.73" cy="322.25" r="1.3"/><circle cx="231.53" cy="324.65" r="1.3"/><circle cx="229.43" cy="332.75" r="1.3"/><circle cx="233.73" cy="334.85" r="1.3"/><circle cx="229.43" cy="336.05" r="1.3"/><circle cx="244.14" cy="321.95" r="1.3"/><circle cx="241.84" cy="324.35" r="1.3"/><circle cx="240.34" cy="329.45" r="1.3"/><circle cx="241.84" cy="331.55" r="1.3"/><circle cx="241.84" cy="336.35" r="1.3"/><circle cx="252.15" cy="331.55" r="1.3"/><circle cx="250.15" cy="334.25" r="1.3"/><circle cx="254.35" cy="334.85" r="1.3"/><circle cx="250.15" cy="338.75" r="1.3"/><circle cx="254.35" cy="341.45" r="1.3"/><circle cx="252.15" cy="345.35" r="1.3"/><circle cx="262.46" cy="324.35" r="1.3"/><circle cx="264.56" cy="329.15" r="1.3"/><circle cx="260.36" cy="330.95" r="1.3"/><circle cx="260.36" cy="333.95" r="1.3"/><circle cx="262.46" cy="339.35" r="1.3"/><circle cx="262.46" cy="354.65" r="1.3"/></g>
<path d="M94.10,321.35H100.90M104.41,330.35H111.21M114.72,332.75H121.52M125.03,330.35H131.83M135.34,330.65H142.14M145.65,335.75H152.45M155.96,313.25H162.76M166.27,308.15H173.07M176.58,306.05H183.38M186.89,309.05H193.69M197.20,327.65H204.00M207.51,324.65H214.31M217.82,332.45H224.62M228.13,328.55H234.93M238.44,330.05H245.24M248.75,338.15H255.55M259.06,332.45H265.86" stroke="#0c0c0c" stroke-width="1.4" fill="none"/>
<text x="447.4" y="234.0" font-size="11.5" font-weight="bold" text-anchor="middle" fill="#000" stroke="#000" stroke-width="0.15">IL</text>
<text transform="translate(334.8,309.9) rotate(-90)" font-size="8.75" font-weight="bold" text-anchor="middle" fill="#000" stroke="#000" stroke-width="0.15">Rectal temperature (°C)</text>
<path d="M357.40,249.55 V370.95" stroke="#202020" stroke-width="1.6" fill="none"/>
<path d="M352.40,370.25 H537.90" stroke="#202020" stroke-width="1.4" fill="none"/>
<path d="M352.40,250.25 H357.40" stroke="#202020" stroke-width="1.3"/>
<text x="351.0" y="253.2" font-size="8.3" font-weight="bold" text-anchor="end" fill="#000" stroke="#000" stroke-width="0.22">42</text>
<path d="M352.40,280.25 H357.40" stroke="#202020" stroke-width="1.3"/>
<text x="351.0" y="283.2" font-size="8.3" font-weight="bold" text-anchor="end" fill="#000" stroke="#000" stroke-width="0.22">41</text>
<path d="M352.40,310.25 H357.40" stroke="#202020" stroke-width="1.3"/>
<text x="351.0" y="313.2" font-size="8.3" font-weight="bold" text-anchor="end" fill="#000" stroke="#000" stroke-width="0.22">40</text>
<path d="M352.40,340.25 H357.40" stroke="#202020" stroke-width="1.3"/>
<text x="351.0" y="343.2" font-size="8.3" font-weight="bold" text-anchor="end" fill="#000" stroke="#000" stroke-width="0.22">39</text>
<text x="351.0" y="373.2" font-size="8.3" font-weight="bold" text-anchor="end" fill="#000" stroke="#000" stroke-width="0.22">38</text>
<path d="M364.20,370.25 V375.75" stroke="#202020" stroke-width="1.3"/>
<text transform="translate(366.80,382.45) rotate(-45)" font-size="7.9" font-weight="bold" text-anchor="end" fill="#000" stroke="#000" stroke-width="0.22">-2 DPC</text>
<path d="M374.51,370.25 V375.75" stroke="#202020" stroke-width="1.3"/>
<text transform="translate(377.11,382.45) rotate(-45)" font-size="7.9" font-weight="bold" text-anchor="end" fill="#000" stroke="#000" stroke-width="0.22">-1 DPC</text>
<path d="M384.82,370.25 V375.75" stroke="#202020" stroke-width="1.3"/>
<text transform="translate(387.42,382.45) rotate(-45)" font-size="7.9" font-weight="bold" text-anchor="end" fill="#000" stroke="#000" stroke-width="0.22">0 DPC</text>
<path d="M395.13,370.25 V375.75" stroke="#202020" stroke-width="1.3"/>
<text transform="translate(397.73,382.45) rotate(-45)" font-size="7.9" font-weight="bold" text-anchor="end" fill="#000" stroke="#000" stroke-width="0.22">1 DPC</text>
<path d="M405.44,370.25 V375.75" stroke="#202020" stroke-width="1.3"/>
<text transform="translate(408.04,382.45) rotate(-45)" font-size="7.9" font-weight="bold" text-anchor="end" fill="#000" stroke="#000" stroke-width="0.22">2 DPC</text>
<path d="M415.75,370.25 V375.75" stroke="#202020" stroke-width="1.3"/>
<text transform="translate(418.35,382.45) rotate(-45)" font-size="7.9" font-weight="bold" text-anchor="end" fill="#000" stroke="#000" stroke-width="0.22">3 DPC</text>
<path d="M426.06,370.25 V375.75" stroke="#202020" stroke-width="1.3"/>
<text transform="translate(428.66,382.45) rotate(-45)" font-size="7.9" font-weight="bold" text-anchor="end" fill="#000" stroke="#000" stroke-width="0.22">4 DPC</text>
<path d="M436.37,370.25 V375.75" stroke="#202020" stroke-width="1.3"/>
<text transform="translate(438.97,382.45) rotate(-45)" font-size="7.9" font-weight="bold" text-anchor="end" fill="#000" stroke="#000" stroke-width="0.22">5 DPC</text>
<path d="M446.68,370.25 V375.75" stroke="#202020" stroke-width="1.3"/>
<text transform="translate(449.28,382.45) rotate(-45)" font-size="7.9" font-weight="bold" text-anchor="end" fill="#000" stroke="#000" stroke-width="0.22">6 DPC</text>
<path d="M456.99,370.25 V375.75" stroke="#202020" stroke-width="1.3"/>
<text transform="translate(459.59,382.45) rotate(-45)" font-size="7.9" font-weight="bold" text-anchor="end" fill="#000" stroke="#000" stroke-width="0.22">7 DPC</text>
<path d="M467.30,370.25 V375.75" stroke="#202020" stroke-width="1.3"/>
<text transform="translate(469.90,382.45) rotate(-45)" font-size="7.9" font-weight="bold" text-anchor="end" fill="#000" stroke="#000" stroke-width="0.22">8 DPC</text>
<path d="M477.61,370.25 V375.75" stroke="#202020" stroke-width="1.3"/>
<text transform="translate(480.21,382.45) rotate(-45)" font-size="7.9" font-weight="bold" text-anchor="end" fill="#000" stroke="#000" stroke-width="0.22">9 DPC</text>
<path d="M487.92,370.25 V375.75" stroke="#202020" stroke-width="1.3"/>
<text transform="translate(490.52,382.45) rotate(-45)" font-size="7.9" font-weight="bold" text-anchor="end" fill="#000" stroke="#000" stroke-width="0.22">10 DPC</text>
<path d="M498.23,370.25 V375.75" stroke="#202020" stroke-width="1.3"/>
<text transform="translate(500.83,382.45) rotate(-45)" font-size="7.9" font-weight="bold" text-anchor="end" fill="#000" stroke="#000" stroke-width="0.22">11 DPC</text>
<path d="M508.54,370.25 V375.75" stroke="#202020" stroke-width="1.3"/>
<text transform="translate(511.14,382.45) rotate(-45)" font-size="7.9" font-weight="bold" text-anchor="end" fill="#000" stroke="#000" stroke-width="0.22">12 DPC</text>
<path d="M518.85,370.25 V375.75" stroke="#202020" stroke-width="1.3"/>
<text transform="translate(521.45,382.45) rotate(-45)" font-size="7.9" font-weight="bold" text-anchor="end" fill="#000" stroke="#000" stroke-width="0.22">13 DPC</text>
<path d="M529.16,370.25 V375.75" stroke="#202020" stroke-width="1.3"/>
<text transform="translate(531.76,382.45) rotate(-45)" font-size="7.9" font-weight="bold" text-anchor="end" fill="#000" stroke="#000" stroke-width="0.22">14 DPC</text>
<path d="M358.20,294.35 H529.66" stroke="#c42828" stroke-width="1.3" stroke-dasharray="1.25,1.12" fill="none"/>
<g fill="none" stroke="#3636ae" stroke-width="0.6"><circle cx="364.20" cy="303.95" r="1.3"/><circle cx="364.20" cy="315.65" r="1.3"/><circle cx="362.80" cy="317.75" r="1.3"/><circle cx="365.60" cy="318.35" r="1.3"/><circle cx="364.20" cy="319.85" r="1.3"/><circle cx="362.40" cy="321.65" r="1.3"/><circle cx="366.00" cy="321.65" r="1.3"/><circle cx="363.60" cy="323.15" r="1.3"/><circle cx="366.80" cy="323.45" r="1.3"/><circle cx="366.60" cy="325.25" r="1.3"/><circle cx="361.80" cy="325.85" r="1.3"/><circle cx="364.20" cy="326.45" r="1.3"/><circle cx="363.00" cy="328.25" r="1.3"/><circle cx="365.40" cy="328.25" r="1.3"/><circle cx="364.20" cy="330.05" r="1.3"/><circle cx="364.50" cy="353.45" r="1.3"/><circle cx="374.51" cy="290.75" r="1.3"/><circle cx="374.51" cy="312.05" r="1.3"/><circle cx="374.51" cy="316.25" r="1.3"/><circle cx="373.51" cy="318.05" r="1.3"/><circle cx="375.21" cy="318.65" r="1.3"/><circle cx="373.81" cy="320.45" r="1.3"/><circle cx="372.61" cy="324.35" r="1.3"/><circle cx="376.21" cy="324.35" r="1.3"/><circle cx="373.81" cy="327.05" r="1.3"/><circle cx="375.61" cy="327.65" r="1.3"/><circle cx="376.21" cy="329.75" r="1.3"/><circle cx="374.81" cy="333.35" r="1.3"/><circle cx="374.81" cy="349.55" r="1.3"/><circle cx="384.82" cy="302.45" r="1.3"/><circle cx="384.82" cy="313.85" r="1.3"/><circle cx="384.82" cy="318.95" r="1.3"/><circle cx="384.82" cy="324.05" r="1.3"/><circle cx="383.42" cy="328.25" r="1.3"/><circle cx="387.02" cy="328.25" r="1.3"/><circle cx="383.72" cy="332.15" r="1.3"/><circle cx="386.52" cy="332.15" r="1.3"/><circle cx="385.42" cy="334.25" r="1.3"/><circle cx="385.92" cy="335.75" r="1.3"/><circle cx="384.22" cy="337.55" r="1.3"/><circle cx="384.82" cy="343.55" r="1.3"/><circle cx="384.82" cy="361.85" r="1.3"/><circle cx="396.33" cy="321.95" r="1.3"/><circle cx="394.53" cy="324.35" r="1.3"/><circle cx="396.53" cy="332.75" r="1.3"/><circle cx="392.93" cy="334.25" r="1.3"/><circle cx="397.23" cy="334.25" r="1.3"/><circle cx="395.13" cy="334.85" r="1.3"/><circle cx="394.43" cy="338.45" r="1.3"/><circle cx="396.73" cy="338.45" r="1.3"/><circle cx="395.53" cy="339.95" r="1.3"/><circle cx="395.13" cy="346.85" r="1.3"/><circle cx="395.13" cy="354.35" r="1.3"/><circle cx="395.13" cy="358.85" r="1.3"/><circle cx="405.44" cy="317.75" r="1.3"/><circle cx="406.14" cy="325.55" r="1.3"/><circle cx="404.74" cy="327.65" r="1.3"/><circle cx="403.54" cy="331.85" r="1.3"/><circle cx="406.74" cy="331.85" r="1.3"/><circle cx="404.94" cy="333.65" r="1.3"/><circle cx="404.04" cy="338.15" r="1.3"/><circle cx="407.44" cy="338.15" r="1.3"/><circle cx="406.34" cy="340.55" r="1.3"/><circle cx="405.44" cy="346.55" r="1.3"/><circle cx="405.44" cy="354.35" r="1.3"/><circle cx="405.44" cy="368.15" r="1.3"/><circle cx="415.75" cy="306.65" r="1.3"/><circle cx="415.75" cy="313.85" r="1.3"/><circle cx="415.75" cy="326.45" r="1.3"/><circle cx="414.55" cy="330.65" r="1.3"/><circle cx="416.75" cy="331.85" r="1.3"/><circle cx="415.75" cy="334.85" r="1.3"/><circle cx="413.75" cy="338.15" r="1.3"/><circle cx="417.65" cy="338.15" r="1.3"/><circle cx="414.85" cy="340.25" r="1.3"/><circle cx="416.55" cy="340.25" r="1.3"/><circle cx="415.35" cy="346.55" r="1.3"/><circle cx="416.25" cy="346.55" r="1.3"/><circle cx="428.36" cy="313.55" r="1.3"/><circle cx="425.56" cy="314.15" r="1.3"/><circle cx="426.06" cy="321.95" r="1.3"/><circle cx="428.36" cy="325.55" r="1.3"/><circle cx="426.06" cy="327.65" r="1.3"/><circle cx="423.76" cy="327.95" r="1.3"/><circle cx="423.76" cy="332.15" r="1.3"/><circle cx="426.06" cy="334.85" r="1.3"/><circle cx="428.66" cy="335.45" r="1.3"/><circle cx="426.06" cy="337.55" r="1.3"/><circle cx="426.06" cy="340.85" r="1.3"/><circle cx="426.06" cy="345.05" r="1.3"/><circle cx="426.06" cy="349.25" r="1.3"/><circle cx="426.06" cy="364.25" r="1.3"/><circle cx="435.17" cy="303.35" r="1.3"/><circle cx="437.57" cy="303.35" r="1.3"/><circle cx="434.37" cy="306.35" r="1.3"/><circle cx="436.37" cy="308.45" r="1.3"/><circle cx="436.37" cy="312.95" r="1.3"/><circle cx="434.37" cy="315.05" r="1.3"/><circle cx="438.17" cy="315.05" r="1.3"/><circle cx="436.37" cy="317.75" r="1.3"/><circle cx="434.37" cy="323.75" r="1.3"/><circle cx="438.77" cy="324.35" r="1.3"/><circle cx="436.37" cy="324.95" r="1.3"/><circle cx="436.37" cy="335.45" r="1.3"/><circle cx="436.37" cy="338.15" r="1.3"/><circle cx="436.37" cy="346.55" r="1.3"/><circle cx="446.68" cy="280.85" r="1.3"/><circle cx="446.68" cy="288.95" r="1.3"/><circle cx="444.78" cy="298.55" r="1.3"/><circle cx="448.98" cy="300.95" r="1.3"/><circle cx="444.18" cy="301.55" r="1.3"/><circle cx="446.68" cy="313.25" r="1.3"/><circle cx="446.68" cy="321.05" r="1.3"/><circle cx="448.98" cy="326.75" r="1.3"/><circle cx="444.18" cy="327.65" r="1.3"/><circle cx="446.68" cy="330.95" r="1.3"/><circle cx="444.58" cy="334.85" r="1.3"/><circle cx="449.08" cy="336.35" r="1.3"/><circle cx="446.68" cy="340.85" r="1.3"/><circle cx="459.49" cy="289.25" r="1.3"/><circle cx="456.99" cy="291.35" r="1.3"/><circle cx="459.19" cy="303.35" r="1.3"/><circle cx="456.79" cy="303.65" r="1.3"/><circle cx="454.99" cy="304.55" r="1.3"/><circle cx="456.99" cy="306.05" r="1.3"/><circle cx="456.99" cy="308.75" r="1.3"/><circle cx="456.99" cy="315.65" r="1.3"/><circle cx="456.99" cy="322.55" r="1.3"/><circle cx="454.79" cy="334.85" r="1.3"/><circle cx="456.99" cy="336.95" r="1.3"/><circle cx="456.99" cy="347.15" r="1.3"/><circle cx="456.99" cy="356.75" r="1.3"/><circle cx="456.99" cy="359.75" r="1.3"/><circle cx="467.30" cy="283.55" r="1.3"/><circle cx="464.90" cy="298.55" r="1.3"/><circle cx="469.70" cy="298.55" r="1.3"/><circle cx="469.60" cy="304.85" r="1.3"/><circle cx="464.80" cy="307.55" r="1.3"/><circle cx="467.30" cy="313.85" r="1.3"/><circle cx="467.30" cy="323.75" r="1.3"/><circle cx="467.30" cy="331.55" r="1.3"/><circle cx="464.90" cy="339.35" r="1.3"/><circle cx="469.70" cy="339.95" r="1.3"/><circle cx="469.70" cy="344.45" r="1.3"/><circle cx="464.90" cy="347.15" r="1.3"/><circle cx="469.70" cy="348.65" r="1.3"/><circle cx="467.30" cy="359.75" r="1.3"/><circle cx="477.61" cy="299.75" r="1.3"/><circle cx="477.61" cy="312.95" r="1.3"/><circle cx="478.71" cy="316.55" r="1.3"/><circle cx="476.51" cy="317.75" r="1.3"/><circle cx="477.61" cy="325.55" r="1.3"/><circle cx="476.41" cy="330.35" r="1.3"/><circle cx="479.21" cy="332.15" r="1.3"/><circle cx="477.61" cy="333.95" r="1.3"/><circle cx="475.81" cy="337.25" r="1.3"/><circle cx="479.11" cy="337.25" r="1.3"/><circle cx="477.61" cy="338.15" r="1.3"/><circle cx="477.61" cy="346.55" r="1.3"/><circle cx="487.92" cy="298.55" r="1.3"/><circle cx="488.72" cy="307.85" r="1.3"/><circle cx="487.32" cy="309.95" r="1.3"/><circle cx="487.92" cy="315.65" r="1.3"/><circle cx="487.92" cy="319.55" r="1.3"/><circle cx="487.92" cy="322.25" r="1.3"/><circle cx="487.92" cy="326.75" r="1.3"/><circle cx="487.92" cy="331.55" r="1.3"/><circle cx="487.92" cy="337.55" r="1.3"/><circle cx="485.92" cy="337.85" r="1.3"/><circle cx="490.12" cy="337.85" r="1.3"/><circle cx="487.92" cy="340.85" r="1.3"/><circle cx="486.92" cy="341.75" r="1.3"/><circle cx="498.23" cy="295.25" r="1.3"/><circle cx="498.23" cy="305.15" r="1.3"/><circle cx="496.23" cy="323.45" r="1.3"/><circle cx="499.63" cy="325.25" r="1.3"/><circle cx="498.23" cy="330.05" r="1.3"/><circle cx="498.23" cy="333.95" r="1.3"/><circle cx="498.23" cy="337.25" r="1.3"/><circle cx="508.54" cy="297.65" r="1.3"/><circle cx="510.64" cy="321.35" r="1.3"/><circle cx="506.44" cy="323.15" r="1.3"/><circle cx="506.44" cy="330.05" r="1.3"/><circle cx="510.64" cy="330.05" r="1.3"/><circle cx="508.54" cy="342.35" r="1.3"/><circle cx="518.85" cy="313.55" r="1.3"/><circle cx="521.15" cy="328.25" r="1.3"/><circle cx="516.55" cy="328.85" r="1.3"/><circle cx="518.85" cy="338.75" r="1.3"/><circle cx="517.75" cy="353.75" r="1.3"/><circle cx="520.05" cy="353.75" r="1.3"/><circle cx="531.56" cy="311.75" r="1.3"/><circle cx="526.86" cy="313.55" r="1.3"/><circle cx="531.56" cy="326.75" r="1.3"/><circle cx="526.86" cy="333.95" r="1.3"/><circle cx="531.56" cy="336.35" r="1.3"/><circle cx="526.86" cy="338.15" r="1.3"/></g>
<path d="M360.80,323.15H367.60M371.11,324.95H377.91M381.42,330.35H388.22M391.73,336.35H398.53M402.04,337.55H408.84M412.35,337.55H419.15M422.66,333.65H429.46M432.97,315.65H439.77M443.28,321.95H450.08M453.59,312.35H460.39M463.90,327.95H470.70M474.21,331.55H481.01M484.52,324.95H491.32M494.83,324.95H501.63M505.14,326.15H511.94M515.45,329.75H522.25M525.76,328.25H532.56" stroke="#0c0c0c" stroke-width="1.4" fill="none"/>

<text x="17.8" y="417.8" font-size="6.2" font-weight="bold" fill="#606060" textLength="28.5" lengthAdjust="spacingAndGlyphs">FIGURE 2</text>
<g font-size="8.7" fill="#848484">
<text x="17.8" y="428.8" textLength="560.5" lengthAdjust="spacingAndGlyphs">Individual rectal temperature recordings for the different groups. The graphs show the distribution of individual temperature recordings in each group.</text>
<text x="17.8" y="439.7" textLength="525" lengthAdjust="spacingAndGlyphs">Dotted lines indicate 40.5 °C. NV/NCh, non-vaccinated/non-challenged; NV/Ch, non-vaccinated/challenged; Por, Porcilis PRRS vaccinated/</text>
<text x="17.8" y="450.6" textLength="179.5" lengthAdjust="spacingAndGlyphs">challenged; IL, Innovac L vaccinated/challenged.</text>
</g>

</svg>
</body></html>
